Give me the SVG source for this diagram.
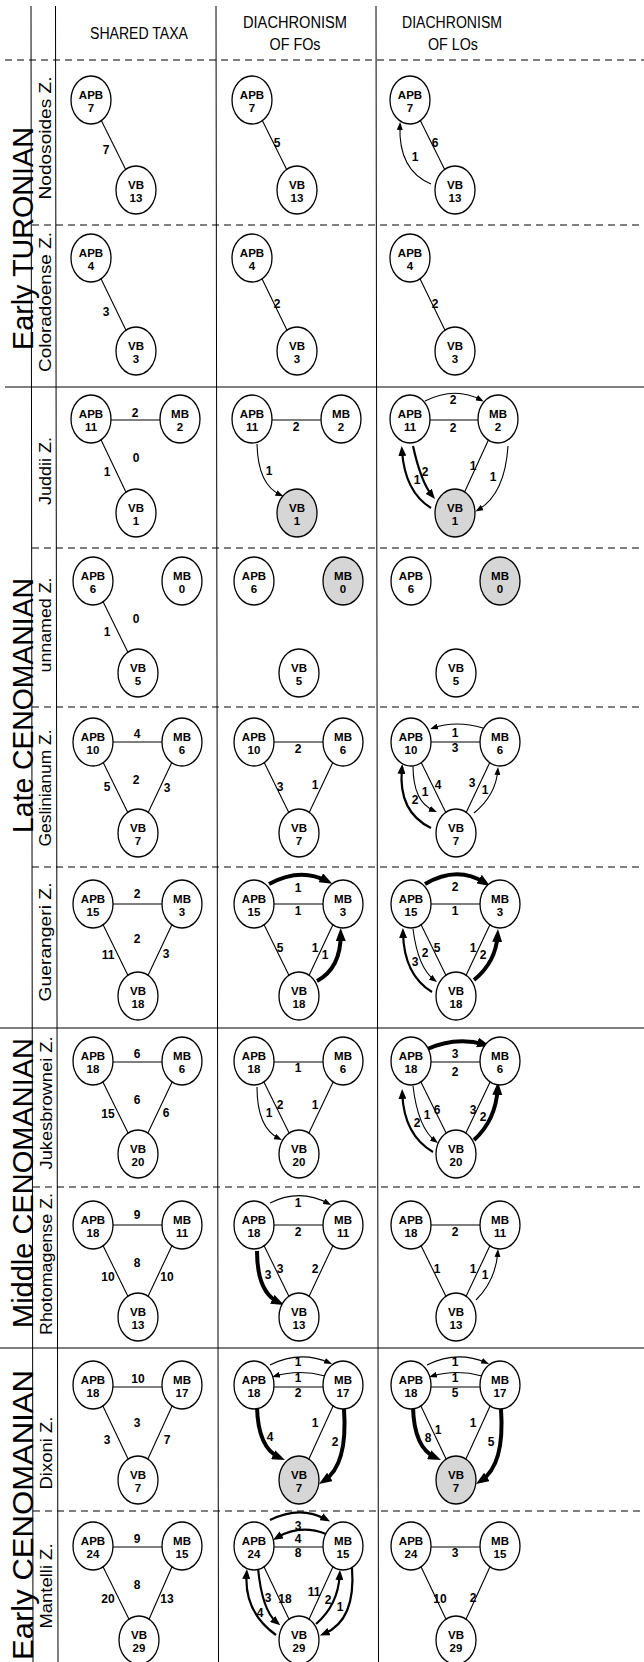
<svg xmlns="http://www.w3.org/2000/svg" width="644" height="1662" viewBox="0 0 644 1662">
<defs>
<style>
text{font-family:"Liberation Sans",Arial,Helvetica,sans-serif;fill:#000}
.nd ellipse{fill:#fff;stroke:#000;stroke-width:1.3}
.nd.g ellipse{fill:#d6d6d6}
.nd text{font-family:"Liberation Sans Narrow","Arial Narrow",sans-serif;font-size:11.5px;font-weight:bold;text-anchor:middle}
.lb text{font-family:"Liberation Sans Narrow","Arial Narrow",sans-serif;font-size:12px;font-weight:bold;text-anchor:middle}
.hd{font-size:16px;text-anchor:middle}
.st{font-size:29px;text-anchor:middle}
.zn{font-size:16px;text-anchor:middle}
.grid line{stroke:#000;stroke-width:1}
.grid line.d{stroke-dasharray:7 5}
.cn line{stroke:#000;stroke-width:1.1}
.cn path{fill:none;stroke:#000}
.cn .a{stroke-width:1.1;marker-end:url(#ah)}
.cn .m{stroke-width:2.2;marker-end:url(#mh)}
.cn .t{stroke-width:4;marker-end:url(#th)}
</style>
<marker id="ah" markerUnits="userSpaceOnUse" markerWidth="8" markerHeight="6" refX="5" refY="3" orient="auto"><path d="M0,0 L8,3 L0,6 z"/></marker>
<marker id="mh" markerUnits="userSpaceOnUse" markerWidth="10" markerHeight="8" refX="5" refY="4" orient="auto"><path d="M0,0 L10,4 L0,8 z"/></marker>
<marker id="th" markerUnits="userSpaceOnUse" markerWidth="13" markerHeight="10" refX="7" refY="5" orient="auto"><path d="M0,0 L13,5 L0,10 z"/></marker>
</defs>
<rect width="644" height="1662" fill="#fff"/>
<g id="grid" class="grid">
<line x1="31" y1="6" x2="33" y2="1662"/>
<line x1="55.5" y1="6" x2="58" y2="1662"/>
<line x1="216" y1="6" x2="218.5" y2="1662"/>
<line x1="376" y1="6" x2="378.5" y2="1662"/>
<line class="d" x1="5" y1="60" x2="644" y2="60"/>
<line class="d" x1="32" y1="225" x2="644" y2="225"/>
<line x1="5" y1="387" x2="644" y2="387"/>
<line class="d" x1="32" y1="548" x2="644" y2="548"/>
<line class="d" x1="32" y1="707" x2="644" y2="707"/>
<line class="d" x1="32" y1="867" x2="644" y2="867"/>
<line x1="0" y1="1028" x2="644" y2="1028"/>
<line class="d" x1="33" y1="1187" x2="644" y2="1187"/>
<line x1="0" y1="1348" x2="644" y2="1348"/>
<line class="d" x1="33" y1="1511" x2="644" y2="1511"/>
</g>
<g id="headers">
<text class="hd" x="139" y="39" textLength="98" lengthAdjust="spacingAndGlyphs">SHARED TAXA</text>
<text class="hd" x="295" y="27.5" textLength="104" lengthAdjust="spacingAndGlyphs">DIACHRONISM</text>
<text class="hd" x="295" y="49.5" textLength="51" lengthAdjust="spacingAndGlyphs">OF FOs</text>
<text class="hd" x="452" y="27.5" textLength="100" lengthAdjust="spacingAndGlyphs">DIACHRONISM</text>
<text class="hd" x="453" y="49.5" textLength="50" lengthAdjust="spacingAndGlyphs">OF LOs</text>
</g>
<g id="stages">
<text class="st" transform="translate(33,238.5) rotate(-90)" textLength="223" lengthAdjust="spacingAndGlyphs">Early TURONIAN</text>
<text class="st" transform="translate(33,705.5) rotate(-90)" textLength="255" lengthAdjust="spacingAndGlyphs">Late CENOMANIAN</text>
<text class="st" transform="translate(33,1183) rotate(-90)" textLength="290" lengthAdjust="spacingAndGlyphs">Middle CENOMANIAN</text>
<text class="st" transform="translate(33,1515) rotate(-90)" textLength="290" lengthAdjust="spacingAndGlyphs">Early CENOMANIAN</text>
</g>
<g id="zones">
<text class="zn" transform="translate(51,138) rotate(-90)" textLength="123" lengthAdjust="spacingAndGlyphs">Nodosoides Z.</text>
<text class="zn" transform="translate(51,302) rotate(-90)" textLength="140" lengthAdjust="spacingAndGlyphs">Coloradoense Z.</text>
<text class="zn" transform="translate(51,471) rotate(-90)" textLength="68" lengthAdjust="spacingAndGlyphs">Juddii Z.</text>
<text class="zn" transform="translate(51,625) rotate(-90)" textLength="95" lengthAdjust="spacingAndGlyphs">unnamed Z.</text>
<text class="zn" transform="translate(51,788) rotate(-90)" textLength="117" lengthAdjust="spacingAndGlyphs">Geslinianum Z.</text>
<text class="zn" transform="translate(51,942) rotate(-90)" textLength="119" lengthAdjust="spacingAndGlyphs">Guerangeri Z.</text>
<text class="zn" transform="translate(52,1103) rotate(-90)" textLength="133" lengthAdjust="spacingAndGlyphs">Jukesbrownei Z.</text>
<text class="zn" transform="translate(52,1264) rotate(-90)" textLength="142" lengthAdjust="spacingAndGlyphs">Rhotomagense Z.</text>
<text class="zn" transform="translate(52,1453) rotate(-90)" textLength="73" lengthAdjust="spacingAndGlyphs">Dixoni Z.</text>
<text class="zn" transform="translate(52,1586) rotate(-90)" textLength="85" lengthAdjust="spacingAndGlyphs">Mantelli Z.</text>
</g>
<g id="connectors" class="cn">
<line x1="101.3" y1="120.6" x2="125.7" y2="169.4"/>
<line x1="262.3" y1="120.6" x2="286.7" y2="169.4"/>
<line x1="420.3" y1="120.6" x2="444.7" y2="169.4"/>
<path class="a" d="M431,184 Q398,170 400,125"/>
<line x1="101" y1="278.8" x2="126" y2="330.2"/>
<line x1="262" y1="278.8" x2="287" y2="330.2"/>
<line x1="420" y1="278.8" x2="445" y2="330.2"/>
<line x1="111" y1="420" x2="160" y2="420"/>
<line x1="101" y1="439.8" x2="126" y2="492.2"/>
<line x1="272" y1="420" x2="321" y2="420"/>
<path class="a" d="M257,444 Q258,485 280.7,495"/>
<line x1="430" y1="420" x2="478" y2="420"/>
<line x1="488.4" y1="440" x2="464.6" y2="492"/>
<path class="a" d="M425,401 Q455,386 481,400"/>
<path class="m" d="M431,508 Q405,492 402,451"/>
<path class="m" d="M413,446 Q421,482 431.8,495.1"/>
<path class="a" d="M508,446 Q505,494 478,510"/>
<line x1="103.1" y1="601.7" x2="127.9" y2="652.3"/>
<line x1="113" y1="742" x2="162" y2="742"/>
<line x1="103.2" y1="762.6" x2="127.8" y2="812.4"/>
<line x1="171.8" y1="762.6" x2="148.2" y2="812.4"/>
<line x1="274" y1="742" x2="323" y2="742"/>
<line x1="264.2" y1="762.6" x2="288.8" y2="812.4"/>
<line x1="332.8" y1="762.6" x2="309.2" y2="812.4"/>
<line x1="431" y1="742" x2="480" y2="742"/>
<line x1="421.2" y1="762.6" x2="445.8" y2="812.4"/>
<line x1="489.8" y1="762.6" x2="466.2" y2="812.4"/>
<path class="a" d="M483,728 Q456,720 433,728"/>
<path class="a" d="M413,766 Q413,802 434.2,810.8"/>
<path class="m" d="M431,828 Q398,812 401.9,769"/>
<path class="a" d="M474,813 Q496,795 497.8,770"/>
<line x1="113" y1="904" x2="162" y2="904"/>
<line x1="103.1" y1="924.7" x2="127.9" y2="975.3"/>
<line x1="171.9" y1="924.7" x2="148.1" y2="975.3"/>
<line x1="274" y1="904" x2="323" y2="904"/>
<line x1="264.1" y1="924.7" x2="288.9" y2="975.3"/>
<line x1="332.9" y1="924.7" x2="309.1" y2="975.3"/>
<path class="t" d="M269,884 Q300,867 327,881"/>
<path class="t" d="M317,981 Q341,968 340.7,934"/>
<line x1="431" y1="904" x2="480" y2="904"/>
<line x1="421.1" y1="924.7" x2="445.9" y2="975.3"/>
<line x1="489.9" y1="924.7" x2="466.1" y2="975.3"/>
<path class="t" d="M425,884 Q457,865 485,882.8"/>
<path class="a" d="M413,929 Q418,968 434.6,980.2"/>
<path class="m" d="M432,992 Q404,975 403,933"/>
<path class="t" d="M474,980 Q496,962 497.6,935"/>
<line x1="113" y1="1062" x2="162" y2="1062"/>
<line x1="102.9" y1="1081.9" x2="128.1" y2="1133.1"/>
<line x1="172.1" y1="1081.9" x2="147.9" y2="1133.1"/>
<line x1="274" y1="1062" x2="323" y2="1062"/>
<line x1="263.9" y1="1081.9" x2="289.1" y2="1133.1"/>
<line x1="333.1" y1="1081.9" x2="308.9" y2="1133.1"/>
<path class="a" d="M257,1087 Q257,1128 279.3,1138.7"/>
<line x1="431" y1="1062" x2="480" y2="1062"/>
<line x1="420.9" y1="1081.9" x2="446.1" y2="1133.1"/>
<line x1="490.1" y1="1081.9" x2="465.9" y2="1133.1"/>
<path class="t" d="M425,1050 Q455,1036 484.2,1044.4"/>
<path class="a" d="M413,1086 Q418,1128 435.6,1141.2"/>
<path class="m" d="M433,1152 Q404,1135 402.3,1094"/>
<path class="t" d="M474,1140 Q496,1120 497.7,1088"/>
<line x1="113" y1="1225" x2="162" y2="1225"/>
<line x1="103.1" y1="1245.7" x2="127.9" y2="1296.3"/>
<line x1="171.9" y1="1245.7" x2="148.1" y2="1296.3"/>
<line x1="274" y1="1225" x2="323" y2="1225"/>
<line x1="264.1" y1="1245.7" x2="288.9" y2="1296.3"/>
<line x1="332.9" y1="1245.7" x2="309.1" y2="1296.3"/>
<path class="a" d="M270,1203 Q300,1188 328.4,1203.6"/>
<path class="t" d="M257,1251 Q257,1292 278.6,1302.4"/>
<line x1="431" y1="1225" x2="480" y2="1225"/>
<line x1="421.1" y1="1245.7" x2="445.9" y2="1296.3"/>
<line x1="489.9" y1="1245.7" x2="466.1" y2="1296.3"/>
<path class="a" d="M476,1300 Q496,1280 497.8,1252"/>
<line x1="113" y1="1387" x2="162" y2="1387"/>
<line x1="102.9" y1="1405.9" x2="128.1" y2="1459.1"/>
<line x1="172.1" y1="1405.9" x2="147.9" y2="1459.1"/>
<line x1="274" y1="1387" x2="323" y2="1387"/>
<line x1="333.1" y1="1405.9" x2="308.9" y2="1459.1"/>
<path class="a" d="M270,1365 Q300,1350 329.3,1362.8"/>
<path class="a" d="M325,1376 Q299,1369 274.9,1376.2"/>
<path class="t" d="M257,1407 Q258,1448 279.5,1457.6"/>
<path class="t" d="M344,1409 Q348,1465 324,1480.7"/>
<line x1="431" y1="1387" x2="480" y2="1387"/>
<line x1="420.9" y1="1405.9" x2="446.1" y2="1459.1"/>
<line x1="490.1" y1="1405.9" x2="465.9" y2="1459.1"/>
<path class="a" d="M427,1365 Q457,1350 486.3,1362.8"/>
<path class="a" d="M482,1376 Q456,1369 431.9,1376.2"/>
<path class="t" d="M413,1407 Q414,1448 435.5,1457.6"/>
<path class="t" d="M501,1409 Q505,1465 481,1480.7"/>
<line x1="113" y1="1547" x2="162" y2="1547"/>
<line x1="103" y1="1566.8" x2="129" y2="1619.2"/>
<line x1="172" y1="1566.8" x2="149" y2="1619.2"/>
<line x1="274" y1="1547" x2="323" y2="1547"/>
<line x1="264" y1="1566.8" x2="289" y2="1619.2"/>
<line x1="333" y1="1566.8" x2="309" y2="1619.2"/>
<path class="m" d="M270,1520 Q300,1505 325.7,1519.2"/>
<path class="m" d="M326,1534 Q300,1524 277.3,1537.4"/>
<path class="m" d="M258,1568 Q262,1610 276.4,1622.1"/>
<path class="m" d="M276,1635 Q244,1612 246.6,1574"/>
<path class="m" d="M316,1624 Q338,1605 339.7,1575"/>
<path class="m" d="M352,1568 Q356,1620 324.5,1633.6"/>
<line x1="431" y1="1547" x2="480" y2="1547"/>
<line x1="421" y1="1566.8" x2="446" y2="1619.2"/>
<line x1="490" y1="1566.8" x2="466" y2="1619.2"/>
</g>
<g id="nodes">
<g id="r1-shared-apb" class="nd"><ellipse cx="91" cy="100" rx="20" ry="24"/><text x="91" y="99">APB</text><text x="91" y="112">7</text></g>
<g id="r1-shared-vb" class="nd"><ellipse cx="136" cy="190" rx="20" ry="24"/><text x="136" y="189">VB</text><text x="136" y="202">13</text></g>
<g id="r1-fo-apb" class="nd"><ellipse cx="252" cy="100" rx="20" ry="24"/><text x="252" y="99">APB</text><text x="252" y="112">7</text></g>
<g id="r1-fo-vb" class="nd"><ellipse cx="297" cy="190" rx="20" ry="24"/><text x="297" y="189">VB</text><text x="297" y="202">13</text></g>
<g id="r1-lo-apb" class="nd"><ellipse cx="410" cy="100" rx="20" ry="24"/><text x="410" y="99">APB</text><text x="410" y="112">7</text></g>
<g id="r1-lo-vb" class="nd"><ellipse cx="455" cy="190" rx="20" ry="24"/><text x="455" y="189">VB</text><text x="455" y="202">13</text></g>
<g id="r2-shared-apb" class="nd"><ellipse cx="91" cy="258" rx="20" ry="24"/><text x="91" y="257">APB</text><text x="91" y="270">4</text></g>
<g id="r2-shared-vb" class="nd"><ellipse cx="136" cy="351" rx="20" ry="24"/><text x="136" y="350">VB</text><text x="136" y="363">3</text></g>
<g id="r2-fo-apb" class="nd"><ellipse cx="252" cy="258" rx="20" ry="24"/><text x="252" y="257">APB</text><text x="252" y="270">4</text></g>
<g id="r2-fo-vb" class="nd"><ellipse cx="297" cy="351" rx="20" ry="24"/><text x="297" y="350">VB</text><text x="297" y="363">3</text></g>
<g id="r2-lo-apb" class="nd"><ellipse cx="410" cy="258" rx="20" ry="24"/><text x="410" y="257">APB</text><text x="410" y="270">4</text></g>
<g id="r2-lo-vb" class="nd"><ellipse cx="455" cy="351" rx="20" ry="24"/><text x="455" y="350">VB</text><text x="455" y="363">3</text></g>
<g id="r3-shared-apb" class="nd"><ellipse cx="91" cy="419" rx="20" ry="24"/><text x="91" y="418">APB</text><text x="91" y="431">11</text></g>
<g id="r3-shared-mb" class="nd"><ellipse cx="180" cy="419" rx="20" ry="24"/><text x="180" y="418">MB</text><text x="180" y="431">2</text></g>
<g id="r3-shared-vb" class="nd"><ellipse cx="136" cy="513" rx="20" ry="24"/><text x="136" y="512">VB</text><text x="136" y="525">1</text></g>
<g id="r3-fo-apb" class="nd"><ellipse cx="252" cy="419" rx="20" ry="24"/><text x="252" y="418">APB</text><text x="252" y="431">11</text></g>
<g id="r3-fo-mb" class="nd"><ellipse cx="341" cy="419" rx="20" ry="24"/><text x="341" y="418">MB</text><text x="341" y="431">2</text></g>
<g id="r3-fo-vb" class="nd g"><ellipse cx="297" cy="513" rx="20" ry="24"/><text x="297" y="512">VB</text><text x="297" y="525">1</text></g>
<g id="r3-lo-apb" class="nd"><ellipse cx="410" cy="419" rx="20" ry="24"/><text x="410" y="418">APB</text><text x="410" y="431">11</text></g>
<g id="r3-lo-mb" class="nd"><ellipse cx="498" cy="419" rx="20" ry="24"/><text x="498" y="418">MB</text><text x="498" y="431">2</text></g>
<g id="r3-lo-vb" class="nd g"><ellipse cx="455" cy="513" rx="20" ry="24"/><text x="455" y="512">VB</text><text x="455" y="525">1</text></g>
<g id="r4-shared-apb" class="nd"><ellipse cx="93" cy="581" rx="20" ry="24"/><text x="93" y="580">APB</text><text x="93" y="593">6</text></g>
<g id="r4-shared-mb" class="nd"><ellipse cx="182" cy="581" rx="20" ry="24"/><text x="182" y="580">MB</text><text x="182" y="593">0</text></g>
<g id="r4-shared-vb" class="nd"><ellipse cx="138" cy="673" rx="20" ry="24"/><text x="138" y="672">VB</text><text x="138" y="685">5</text></g>
<g id="r4-fo-apb" class="nd"><ellipse cx="254" cy="581" rx="20" ry="24"/><text x="254" y="580">APB</text><text x="254" y="593">6</text></g>
<g id="r4-fo-mb" class="nd g"><ellipse cx="343" cy="581" rx="20" ry="24"/><text x="343" y="580">MB</text><text x="343" y="593">0</text></g>
<g id="r4-fo-vb" class="nd"><ellipse cx="299" cy="673" rx="20" ry="24"/><text x="299" y="672">VB</text><text x="299" y="685">5</text></g>
<g id="r4-lo-apb" class="nd"><ellipse cx="411" cy="581" rx="20" ry="24"/><text x="411" y="580">APB</text><text x="411" y="593">6</text></g>
<g id="r4-lo-mb" class="nd g"><ellipse cx="500" cy="581" rx="20" ry="24"/><text x="500" y="580">MB</text><text x="500" y="593">0</text></g>
<g id="r4-lo-vb" class="nd"><ellipse cx="456" cy="673" rx="20" ry="24"/><text x="456" y="672">VB</text><text x="456" y="685">5</text></g>
<g id="r5-shared-apb" class="nd"><ellipse cx="93" cy="742" rx="20" ry="24"/><text x="93" y="741">APB</text><text x="93" y="754">10</text></g>
<g id="r5-shared-mb" class="nd"><ellipse cx="182" cy="742" rx="20" ry="24"/><text x="182" y="741">MB</text><text x="182" y="754">6</text></g>
<g id="r5-shared-vb" class="nd"><ellipse cx="138" cy="833" rx="20" ry="24"/><text x="138" y="832">VB</text><text x="138" y="845">7</text></g>
<g id="r5-fo-apb" class="nd"><ellipse cx="254" cy="742" rx="20" ry="24"/><text x="254" y="741">APB</text><text x="254" y="754">10</text></g>
<g id="r5-fo-mb" class="nd"><ellipse cx="343" cy="742" rx="20" ry="24"/><text x="343" y="741">MB</text><text x="343" y="754">6</text></g>
<g id="r5-fo-vb" class="nd"><ellipse cx="299" cy="833" rx="20" ry="24"/><text x="299" y="832">VB</text><text x="299" y="845">7</text></g>
<g id="r5-lo-apb" class="nd"><ellipse cx="411" cy="742" rx="20" ry="24"/><text x="411" y="741">APB</text><text x="411" y="754">10</text></g>
<g id="r5-lo-mb" class="nd"><ellipse cx="500" cy="742" rx="20" ry="24"/><text x="500" y="741">MB</text><text x="500" y="754">6</text></g>
<g id="r5-lo-vb" class="nd"><ellipse cx="456" cy="833" rx="20" ry="24"/><text x="456" y="832">VB</text><text x="456" y="845">7</text></g>
<g id="r6-shared-apb" class="nd"><ellipse cx="93" cy="904" rx="20" ry="24"/><text x="93" y="903">APB</text><text x="93" y="916">15</text></g>
<g id="r6-shared-mb" class="nd"><ellipse cx="182" cy="904" rx="20" ry="24"/><text x="182" y="903">MB</text><text x="182" y="916">3</text></g>
<g id="r6-shared-vb" class="nd"><ellipse cx="138" cy="996" rx="20" ry="24"/><text x="138" y="995">VB</text><text x="138" y="1008">18</text></g>
<g id="r6-fo-apb" class="nd"><ellipse cx="254" cy="904" rx="20" ry="24"/><text x="254" y="903">APB</text><text x="254" y="916">15</text></g>
<g id="r6-fo-mb" class="nd"><ellipse cx="343" cy="904" rx="20" ry="24"/><text x="343" y="903">MB</text><text x="343" y="916">3</text></g>
<g id="r6-fo-vb" class="nd"><ellipse cx="299" cy="996" rx="20" ry="24"/><text x="299" y="995">VB</text><text x="299" y="1008">18</text></g>
<g id="r6-lo-apb" class="nd"><ellipse cx="411" cy="904" rx="20" ry="24"/><text x="411" y="903">APB</text><text x="411" y="916">15</text></g>
<g id="r6-lo-mb" class="nd"><ellipse cx="500" cy="904" rx="20" ry="24"/><text x="500" y="903">MB</text><text x="500" y="916">3</text></g>
<g id="r6-lo-vb" class="nd"><ellipse cx="456" cy="996" rx="20" ry="24"/><text x="456" y="995">VB</text><text x="456" y="1008">18</text></g>
<g id="r7-shared-apb" class="nd"><ellipse cx="93" cy="1061" rx="20" ry="24"/><text x="93" y="1060">APB</text><text x="93" y="1073">18</text></g>
<g id="r7-shared-mb" class="nd"><ellipse cx="182" cy="1061" rx="20" ry="24"/><text x="182" y="1060">MB</text><text x="182" y="1073">6</text></g>
<g id="r7-shared-vb" class="nd"><ellipse cx="138" cy="1154" rx="20" ry="24"/><text x="138" y="1153">VB</text><text x="138" y="1166">20</text></g>
<g id="r7-fo-apb" class="nd"><ellipse cx="254" cy="1061" rx="20" ry="24"/><text x="254" y="1060">APB</text><text x="254" y="1073">18</text></g>
<g id="r7-fo-mb" class="nd"><ellipse cx="343" cy="1061" rx="20" ry="24"/><text x="343" y="1060">MB</text><text x="343" y="1073">6</text></g>
<g id="r7-fo-vb" class="nd"><ellipse cx="299" cy="1154" rx="20" ry="24"/><text x="299" y="1153">VB</text><text x="299" y="1166">20</text></g>
<g id="r7-lo-apb" class="nd"><ellipse cx="411" cy="1061" rx="20" ry="24"/><text x="411" y="1060">APB</text><text x="411" y="1073">18</text></g>
<g id="r7-lo-mb" class="nd"><ellipse cx="500" cy="1061" rx="20" ry="24"/><text x="500" y="1060">MB</text><text x="500" y="1073">6</text></g>
<g id="r7-lo-vb" class="nd"><ellipse cx="456" cy="1154" rx="20" ry="24"/><text x="456" y="1153">VB</text><text x="456" y="1166">20</text></g>
<g id="r8-shared-apb" class="nd"><ellipse cx="93" cy="1225" rx="20" ry="24"/><text x="93" y="1224">APB</text><text x="93" y="1237">18</text></g>
<g id="r8-shared-mb" class="nd"><ellipse cx="182" cy="1225" rx="20" ry="24"/><text x="182" y="1224">MB</text><text x="182" y="1237">11</text></g>
<g id="r8-shared-vb" class="nd"><ellipse cx="138" cy="1317" rx="20" ry="24"/><text x="138" y="1316">VB</text><text x="138" y="1329">13</text></g>
<g id="r8-fo-apb" class="nd"><ellipse cx="254" cy="1225" rx="20" ry="24"/><text x="254" y="1224">APB</text><text x="254" y="1237">18</text></g>
<g id="r8-fo-mb" class="nd"><ellipse cx="343" cy="1225" rx="20" ry="24"/><text x="343" y="1224">MB</text><text x="343" y="1237">11</text></g>
<g id="r8-fo-vb" class="nd"><ellipse cx="299" cy="1317" rx="20" ry="24"/><text x="299" y="1316">VB</text><text x="299" y="1329">13</text></g>
<g id="r8-lo-apb" class="nd"><ellipse cx="411" cy="1225" rx="20" ry="24"/><text x="411" y="1224">APB</text><text x="411" y="1237">18</text></g>
<g id="r8-lo-mb" class="nd"><ellipse cx="500" cy="1225" rx="20" ry="24"/><text x="500" y="1224">MB</text><text x="500" y="1237">11</text></g>
<g id="r8-lo-vb" class="nd"><ellipse cx="456" cy="1317" rx="20" ry="24"/><text x="456" y="1316">VB</text><text x="456" y="1329">13</text></g>
<g id="r9-shared-apb" class="nd"><ellipse cx="93" cy="1385" rx="20" ry="24"/><text x="93" y="1384">APB</text><text x="93" y="1397">18</text></g>
<g id="r9-shared-mb" class="nd"><ellipse cx="182" cy="1385" rx="20" ry="24"/><text x="182" y="1384">MB</text><text x="182" y="1397">17</text></g>
<g id="r9-shared-vb" class="nd"><ellipse cx="138" cy="1480" rx="20" ry="24"/><text x="138" y="1479">VB</text><text x="138" y="1492">7</text></g>
<g id="r9-fo-apb" class="nd"><ellipse cx="254" cy="1385" rx="20" ry="24"/><text x="254" y="1384">APB</text><text x="254" y="1397">18</text></g>
<g id="r9-fo-mb" class="nd"><ellipse cx="343" cy="1385" rx="20" ry="24"/><text x="343" y="1384">MB</text><text x="343" y="1397">17</text></g>
<g id="r9-fo-vb" class="nd g"><ellipse cx="299" cy="1480" rx="20" ry="24"/><text x="299" y="1479">VB</text><text x="299" y="1492">7</text></g>
<g id="r9-lo-apb" class="nd"><ellipse cx="411" cy="1385" rx="20" ry="24"/><text x="411" y="1384">APB</text><text x="411" y="1397">18</text></g>
<g id="r9-lo-mb" class="nd"><ellipse cx="500" cy="1385" rx="20" ry="24"/><text x="500" y="1384">MB</text><text x="500" y="1397">17</text></g>
<g id="r9-lo-vb" class="nd g"><ellipse cx="456" cy="1480" rx="20" ry="24"/><text x="456" y="1479">VB</text><text x="456" y="1492">7</text></g>
<g id="r10-shared-apb" class="nd"><ellipse cx="93" cy="1546" rx="20" ry="24"/><text x="93" y="1545">APB</text><text x="93" y="1558">24</text></g>
<g id="r10-shared-mb" class="nd"><ellipse cx="182" cy="1546" rx="20" ry="24"/><text x="182" y="1545">MB</text><text x="182" y="1558">15</text></g>
<g id="r10-shared-vb" class="nd"><ellipse cx="139" cy="1640" rx="20" ry="24"/><text x="139" y="1639">VB</text><text x="139" y="1652">29</text></g>
<g id="r10-fo-apb" class="nd"><ellipse cx="254" cy="1546" rx="20" ry="24"/><text x="254" y="1545">APB</text><text x="254" y="1558">24</text></g>
<g id="r10-fo-mb" class="nd"><ellipse cx="343" cy="1546" rx="20" ry="24"/><text x="343" y="1545">MB</text><text x="343" y="1558">15</text></g>
<g id="r10-fo-vb" class="nd"><ellipse cx="299" cy="1640" rx="20" ry="24"/><text x="299" y="1639">VB</text><text x="299" y="1652">29</text></g>
<g id="r10-lo-apb" class="nd"><ellipse cx="411" cy="1546" rx="20" ry="24"/><text x="411" y="1545">APB</text><text x="411" y="1558">24</text></g>
<g id="r10-lo-mb" class="nd"><ellipse cx="500" cy="1546" rx="20" ry="24"/><text x="500" y="1545">MB</text><text x="500" y="1558">15</text></g>
<g id="r10-lo-vb" class="nd"><ellipse cx="456" cy="1640" rx="20" ry="24"/><text x="456" y="1639">VB</text><text x="456" y="1652">29</text></g>
</g>
<g id="edge-labels" class="lb">
<text x="106" y="154">7</text><text x="277" y="147">5</text><text x="435" y="147">6</text><text x="415" y="161">1</text>
<text x="106" y="316">3</text><text x="277" y="308">2</text><text x="435" y="308">2</text>
<text x="135" y="417">2</text><text x="136" y="462">0</text><text x="107" y="476">1</text>
<text x="296" y="431">2</text><text x="269" y="475">1</text>
<text x="453" y="404">2</text><text x="453" y="432">2</text><text x="417" y="484">1</text><text x="425" y="476">2</text><text x="473" y="470">1</text><text x="493" y="481">1</text>
<text x="136" y="623">0</text><text x="107" y="636">1</text>
<text x="137" y="738">4</text><text x="136" y="784">2</text><text x="107" y="791">5</text><text x="167" y="792">3</text>
<text x="298" y="753">2</text><text x="280" y="791">3</text><text x="315" y="789">1</text>
<text x="455" y="737">1</text><text x="455" y="752">3</text><text x="438" y="789">4</text><text x="425" y="796">1</text><text x="415" y="804">2</text><text x="472" y="787">3</text><text x="485" y="794">1</text>
<text x="137" y="898">2</text><text x="137" y="943">2</text><text x="108" y="959">11</text><text x="166" y="958">3</text>
<text x="298" y="892">1</text><text x="298" y="915">1</text><text x="280" y="952">5</text><text x="315" y="952">1</text><text x="325" y="959">1</text>
<text x="455" y="891">2</text><text x="455" y="915">1</text><text x="437" y="952">5</text><text x="425" y="957">2</text><text x="415" y="966">3</text><text x="473" y="952">1</text><text x="483" y="959">2</text>
<text x="137" y="1058">6</text><text x="137" y="1104">6</text><text x="108" y="1118">15</text><text x="166" y="1117">6</text>
<text x="298" y="1072">1</text><text x="280" y="1109">2</text><text x="269" y="1117">1</text><text x="315" y="1109">1</text>
<text x="455" y="1058">3</text><text x="455" y="1076">2</text><text x="437" y="1114">6</text><text x="427" y="1119">1</text><text x="417" y="1127">2</text><text x="473" y="1114">3</text><text x="483" y="1121">2</text>
<text x="137" y="1219">9</text><text x="137" y="1267">8</text><text x="108" y="1281">10</text><text x="167" y="1281">10</text>
<text x="298" y="1207">1</text><text x="298" y="1236">2</text><text x="280" y="1273">3</text><text x="268" y="1279">3</text><text x="315" y="1273">2</text>
<text x="455" y="1236">2</text><text x="437" y="1273">1</text><text x="473" y="1273">1</text><text x="485" y="1279">1</text>
<text x="138" y="1383">10</text><text x="137" y="1427">3</text><text x="107" y="1444">3</text><text x="167" y="1444">7</text>
<text x="298" y="1366">1</text><text x="298" y="1382">1</text><text x="298" y="1397">2</text><text x="270" y="1441">4</text><text x="315" y="1427">1</text><text x="335" y="1446">2</text>
<text x="455" y="1366">1</text><text x="455" y="1382">1</text><text x="455" y="1397">5</text><text x="438" y="1434">1</text><text x="428" y="1442">8</text><text x="473" y="1427">1</text><text x="491" y="1446">5</text>
<text x="137" y="1543">9</text><text x="137" y="1589">8</text><text x="108" y="1603">20</text><text x="167" y="1603">13</text>
<text x="298" y="1530">3</text><text x="298" y="1543">4</text><text x="298" y="1557">8</text><text x="285" y="1603">18</text><text x="268" y="1602">3</text><text x="260" y="1617">4</text><text x="314" y="1596">11</text><text x="328" y="1604">2</text><text x="340" y="1611">1</text>
<text x="455" y="1557">3</text><text x="440" y="1603">10</text><text x="473" y="1602">2</text>
</g>
</svg>
